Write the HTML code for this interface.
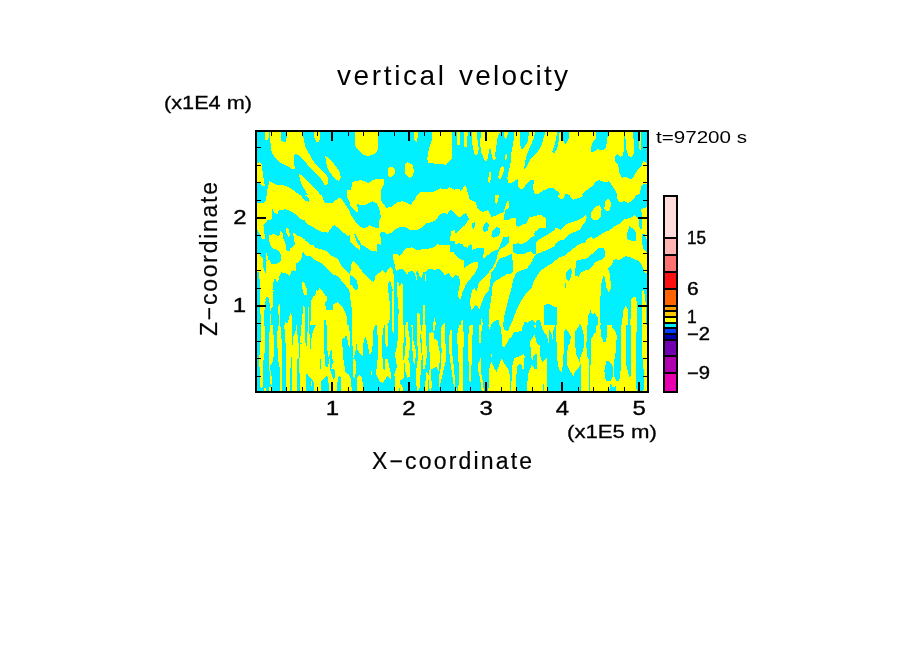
<!DOCTYPE html>
<html><head><meta charset="utf-8">
<style>
html,body{margin:0;padding:0;background:#fff;width:904px;height:654px;overflow:hidden}
svg{position:absolute;left:0;top:0}
text{font-family:"Liberation Sans",sans-serif;fill:#000}
.c{fill:#00F0FF}
</style></head><body>
<svg width="904" height="654" viewBox="0 0 904 654">
<defs><clipPath id="pc"><rect x="257" y="132" width="390" height="259"/></clipPath></defs>
<rect x="257" y="132" width="390" height="259" fill="#00F0FF"/>
<g fill="#FFFF00" shape-rendering="crispEdges" clip-path="url(#pc)">
<polygon points="265.0,132.0 269.2,132.0 268.8,136.6 268.1,140.0 265.0,140.0"/>
<polygon points="269.9,132.0 281.0,132.0 281.5,140.5 284.0,142.7 286.2,141.6 287.1,132.0 302.6,132.0 303.7,138.8 305.3,146.6 308.1,152.1 311.4,157.7 314.7,163.2 320.3,168.7 325.8,174.2 328.0,177.6 327.5,184.2 324.7,185.3 322.5,180.9 319.2,176.5 313.6,170.9 308.1,165.4 303.7,159.9 299.2,155.4 295.9,153.8 294.3,155.4 294.3,163.2 294.8,168.7 291.5,168.7 286.0,165.4 279.3,162.1 274.9,157.7 271.6,152.1 270.5,143.3"/>
<polygon points="325.2,156.0 328.0,157.7 332.4,162.1 336.9,167.6 340.2,172.6 340.7,177.6 339.1,180.9 335.8,179.8 332.4,175.4 328.0,169.8 326.3,163.2"/>
<polygon points="257.0,163.2 259.4,162.1 261.6,164.3 262.7,172.0 263.8,179.8 265.0,186.4 262.7,186.4 259.4,183.1 257.0,182.0"/>
<polygon points="266.1,200.8 267.7,187.5 269.4,181.4 272.7,183.1 277.1,185.3 283.8,185.3 289.3,187.5 293.7,190.3 299.2,194.7 303.7,200.8"/>
<polygon points="299.2,174.2 302.6,175.9 308.1,182.0 313.6,187.5 319.2,193.1 322.5,197.5 323.6,200.8 310.3,200.8 308.1,195.3 304.8,189.7 301.5,184.2 299.8,178.7"/>
<polygon points="346.8,200.8 347.4,190.3 351.2,189.7 352.3,182.0 355.0,180.9 355.0,200.8"/>
<polygon points="337.4,200.8 339.1,196.9 341.3,197.5 342.4,200.8"/>
<polygon points="314.2,132.0 319.7,132.0 319.7,140.0 318.1,142.7 315.8,141.1 314.2,137.7"/>
<polygon points="355.5,131.8 378.0,131.8 378.0,149.5 374.9,153.7 368.3,156.2 363.4,154.9 358.5,150.1 355.1,145.8"/>
<polygon points="413.9,131.8 418.1,131.8 417.5,138.5 416.3,142.8 414.5,139.7"/>
<polygon points="432.1,131.8 452.2,131.8 451.6,158.6 445.5,164.7 427.9,162.9 427.3,158.0 429.1,148.3 431.5,141.0"/>
<polygon points="456.5,131.8 460.0,131.8 460.0,144.6 457.1,144.6"/>
<polygon points="388.3,167.7 392.0,166.5 395.6,170.8 395.0,173.2 390.8,177.5 388.0,176.2"/>
<polygon points="405.4,164.1 407.8,162.2 412.7,164.7 413.9,171.4 412.7,175.6 409.6,178.1 405.4,173.8"/>
<polygon points="351.8,200.6 352.4,181.7 356.1,181.1 361.0,179.9 368.3,182.9 373.1,179.9 378.6,178.7 384.1,179.3 383.5,184.8 381.0,189.6 381.0,200.6"/>
<polygon points="415.1,200.6 416.9,195.1 421.8,191.5 427.9,192.1 434.0,191.5 440.0,188.4 446.1,189.6 449.8,187.2 454.6,189.6 460.0,188.4 460.0,200.6"/>
<polygon points="456.8,131.8 459.9,131.8 459.3,141.0 458.7,144.6 456.8,144.6"/>
<polygon points="464.1,131.8 467.8,131.8 467.2,141.0 466.6,147.0 464.1,147.6"/>
<polygon points="472.0,131.8 476.9,131.8 477.5,139.7 478.7,148.3 478.1,153.7 475.1,155.6 473.3,149.5 472.0,142.2"/>
<polygon points="481.2,131.8 500.0,131.8 498.2,136.1 497.0,139.7 496.4,145.8 495.2,154.3 495.8,159.2 493.3,160.4 491.5,154.3 490.3,148.3 489.1,149.5 487.9,158.0 486.0,161.6 484.2,159.2 481.2,151.9 479.9,143.4"/>
<polygon points="503.7,131.8 507.9,131.8 507.3,137.3 505.5,139.1 503.7,136.1"/>
<polygon points="514.0,131.8 519.5,131.8 519.5,142.2 521.3,149.5 524.4,147.0 527.4,142.2 529.2,131.8 535.3,131.8 534.1,137.3 531.7,143.4 528.0,151.9 525.6,159.2 523.8,170.2 526.8,166.5 530.4,159.2 536.5,153.1 541.4,145.8 543.8,137.3 545.7,131.8 557.2,131.8 556.0,139.7 552.3,151.9 554.2,153.7 557.2,148.3 559.0,139.7 559.6,131.8 565.0,131.8 565.0,200.6 562.1,199.4 558.4,192.1 553.6,188.4 548.7,188.4 542.6,190.8 537.7,194.5 534.1,193.3 532.9,187.2 534.1,180.5 530.4,179.9 526.8,183.5 523.1,188.4 521.3,189.6 518.3,187.2 518.3,178.7 514.6,181.1 511.0,183.5 507.9,182.9 507.3,177.5 509.8,166.5 511.0,160.4 511.6,150.7 513.4,143.4"/>
<polygon points="504.9,155.6 506.7,154.3 507.3,158.0 505.5,159.8"/>
<polygon points="498.2,177.5 500.0,168.9 502.5,165.9 504.3,167.7 503.1,173.8 500.0,179.9"/>
<polygon points="487.9,181.1 489.1,172.6 490.9,171.4 490.9,178.7 489.7,183.5"/>
<polygon points="454.4,200.6 454.4,189.6 457.4,189.6 460.5,191.5 463.5,187.2 466.0,185.4 467.2,190.8 468.4,195.7 470.2,200.6"/>
<polygon points="495.2,200.6 497.0,195.7 498.8,195.1 498.8,200.6"/>
<polygon points="560.0,131.6 648.8,131.6 648.8,200.6 560.0,200.6"/>
<polygon class="c" points="562.7,131.6 569.1,131.6 568.6,138.6 565.9,144.4 563.7,141.8 562.7,138.6"/>
<polygon class="c" points="595.9,131.6 608.2,131.6 607.1,139.6 606.0,147.1 603.3,150.3 597.5,149.3 591.6,153.0 591.0,147.1 593.2,141.8 595.9,138.6"/>
<polygon class="c" points="624.2,131.6 625.3,131.6 625.8,148.2 628.5,155.7 631.2,157.8 633.3,155.7 633.9,151.4 633.3,131.6 638.1,131.6 639.2,149.3 641.3,149.8 641.3,131.6 648.8,131.6 648.8,164.3 643.5,161.0 641.3,166.4 637.1,170.7 633.9,176.0 631.2,179.8 626.4,177.1 622.1,177.6 619.4,172.8 618.3,165.3 615.1,162.1 615.1,156.8 617.8,154.1 619.9,156.8 623.1,156.2 624.2,146.1"/>
<polygon class="c" points="560.0,200.6 560.0,198.0 565.4,194.2 569.6,194.8 571.8,200.6"/>
<polygon class="c" points="577.1,200.6 583.5,193.1 587.8,189.4 592.6,185.7 596.4,180.8 599.6,180.3 605.0,182.4 608.7,181.2 611.4,184.6 615.7,191.0 617.3,194.2 617.8,200.6"/>
<polygon class="c" points="633.9,200.6 637.1,195.3 639.7,193.7 641.3,185.7 644.0,183.5 648.8,183.5 648.8,200.6"/>
<polygon points="255.0,195.0 355.7,195.0 355.7,265.8 255.0,265.8"/>
<polygon class="c" points="257.0,195.0 266.6,195.0 266.1,199.4 264.4,202.7 257.0,202.7"/>
<polygon class="c" points="300.4,195.0 304.8,195.0 308.7,198.3 308.7,201.6 305.9,201.1 302.6,197.8"/>
<polygon class="c" points="321.9,195.0 346.8,195.0 347.4,198.3 351.2,205.0 355.7,209.4 355.7,218.2 352.3,214.9 347.9,208.3 343.5,201.6 340.2,197.2 336.9,199.4 332.4,202.7 325.8,203.3 323.6,200.5"/>
<polygon class="c" points="263.3,224.9 267.2,220.4 271.6,219.3 272.1,208.3 274.9,213.3 277.7,213.8 278.8,209.9 286.0,209.4 291.5,211.6 297.0,215.5 302.6,220.4 308.1,224.3 314.7,228.2 321.4,231.5 328.0,232.6 332.4,226.5 334.6,225.4 339.1,228.2 343.5,232.6 347.9,235.9 353.5,234.3 355.7,233.7 355.7,260.3 352.3,260.3 347.9,258.6 341.3,257.5 334.6,255.8 328.0,253.6 321.4,250.3 314.7,247.5 309.2,243.7 303.7,239.2 298.1,235.4 293.2,232.6 291.5,233.2 288.2,230.4 282.7,230.4 277.1,232.6 269.4,234.8 265.0,231.5"/>
<polygon class="c" points="305.0,253.1 312.5,257.5 319.2,260.8 325.8,264.1 328.0,265.8 305.0,265.8"/>
<polygon class="c" points="255.0,220.0 305.0,220.0 305.0,265.0 255.0,265.0"/>
<polygon points="256.7,220.0 267.0,220.0 266.7,221.4 263.3,225.2 263.9,228.9 265.0,238.6 261.9,238.6 259.8,235.1 257.8,230.3 256.7,229.6"/>
<polygon points="269.1,235.1 273.6,234.1 277.0,235.5 279.4,235.5 280.1,231.0 282.9,233.1 283.2,237.9 285.3,242.7 286.6,250.3 289.4,251.6 290.8,248.9 294.9,246.8 294.2,238.6 292.5,232.4 294.2,232.7 296.3,235.1 300.4,236.5 303.1,238.6 305.0,239.3 305.0,252.3 302.5,252.3 301.8,257.1 299.7,260.6 297.0,264.0 296.3,265.0 281.1,265.0 280.8,254.4 279.4,251.3 276.3,249.6 272.2,248.2 270.1,244.8 269.1,240.6"/>
<polygon points="286.3,228.3 288.0,227.9 289.4,230.3 289.7,235.8 288.7,236.9 286.6,234.4"/>
<polygon points="256.7,253.7 260.5,253.7 260.2,255.1 262.6,258.5 262.9,265.0 256.7,265.0"/>
<polygon points="266.0,253.7 267.0,253.0 268.1,259.9 272.2,265.0 266.3,265.0"/>
<polygon points="274.3,264.0 280.4,262.0 281.1,265.0 273.6,265.0"/>
<polygon points="350.0,195.0 460.7,195.0 460.7,265.6 350.0,265.6"/>
<polygon class="c" points="381.0,195.0 416.9,195.0 414.5,199.9 410.8,204.7 407.2,202.9 402.3,201.1 397.5,202.3 391.4,206.6 386.5,207.8 384.1,204.7 381.0,200.5"/>
<polygon class="c" points="350.0,205.3 353.7,209.6 357.9,212.6 357.3,203.5 361.0,205.3 365.8,204.7 372.5,201.1 376.8,203.5 379.2,208.4 381.0,216.9 379.2,220.6 379.2,228.5 375.6,227.9 369.5,225.4 364.0,228.5 359.7,226.6 355.5,221.8 352.4,216.9 350.0,213.3"/>
<polygon class="c" points="350.0,241.8 359.7,249.8 358.5,246.1 354.3,234.5 355.5,233.9 361.0,244.3 365.8,247.3 371.9,251.0 376.8,251.6 377.4,243.7 381.0,244.9 380.2,232.7 384.1,232.1 387.1,234.5 392.6,232.1 395.0,229.1 399.9,227.2 406.0,227.2 409.6,229.7 415.7,230.3 421.8,227.9 425.4,223.6 430.3,222.4 435.2,220.6 440.0,214.5 443.7,212.6 447.3,213.9 451.0,209.6 454.6,213.3 457.1,213.3 460.7,217.5 460.7,233.9 456.5,233.9 454.6,229.7 451.0,231.5 449.8,241.2 454.6,240.6 457.1,243.7 460.7,244.9 460.7,258.3 455.9,257.1 453.4,252.2 449.8,252.2 449.8,244.9 443.7,245.5 437.6,244.3 434.0,247.3 429.1,248.5 423.0,249.1 417.5,250.4 412.1,247.3 406.0,248.5 402.3,252.8 399.9,255.8 396.2,253.4 393.2,254.6 393.2,265.6 357.3,265.6 353.7,261.3 350.0,261.3"/>
<polygon class="c" points="455.0,195.0 565.7,195.0 565.7,265.6 455.0,265.6"/>
<polygon points="455.0,195.0 469.0,195.0 469.6,199.3 475.7,202.3 477.5,208.4 482.4,212.0 487.9,210.2 491.5,216.9 497.0,215.1 503.7,212.0 506.1,203.5 507.9,200.5 509.1,202.3 509.1,207.2 504.9,210.8 503.7,219.9 507.3,220.6 513.4,217.5 515.8,217.5 516.5,226.0 518.3,226.6 526.8,223.0 529.2,217.5 540.2,214.5 545.7,218.1 545.7,227.9 540.2,227.9 535.3,231.5 531.7,237.6 526.8,242.5 520.7,243.7 514.6,243.1 513.4,246.1 514.0,252.2 519.5,254.6 526.8,251.6 531.7,252.2 533.5,258.3 530.4,263.1 529.2,265.6 512.2,265.6 512.2,257.1 509.1,253.4 503.7,252.8 501.2,255.8 497.6,265.6 491.5,265.6 495.2,258.3 500.0,252.2 504.9,246.1 508.5,243.1 509.1,237.6 506.1,235.8 502.5,237.6 499.4,243.7 493.9,248.5 487.9,254.6 484.2,258.3 482.4,251.0 476.9,247.3 469.6,248.5 464.7,244.9 459.9,243.1 455.0,244.9 455.0,233.9 459.3,230.3 464.7,225.4 469.0,219.3 466.0,212.6 459.3,217.5 455.0,213.3"/>
<polygon class="c" points="472.0,223.6 474.5,221.8 475.1,226.0 473.3,229.1 471.8,227.2"/>
<polygon class="c" points="483.6,225.4 486.6,221.8 489.1,224.2 487.9,230.3 484.2,232.7 483.0,229.1"/>
<polygon class="c" points="492.1,231.5 495.8,227.2 500.0,227.9 500.0,233.9 495.2,237.6 491.5,237.0"/>
<polygon points="455.0,253.4 459.9,256.5 463.5,259.5 464.1,265.6 455.0,265.6"/>
<polygon points="469.6,265.6 472.0,262.5 476.9,261.9 478.1,265.6"/>
<polygon points="534.1,243.7 540.2,238.8 548.7,233.9 556.0,229.1 560.9,227.2 565.7,226.6 565.7,238.8 559.6,241.2 554.8,246.1 547.5,249.8 540.2,252.8 535.3,254.6 534.1,249.8"/>
<polygon points="551.1,265.6 557.2,259.5 562.1,257.1 565.7,255.8 565.7,265.6"/>
<polygon points="495.2,195.0 498.8,195.0 498.2,201.1 496.4,204.7 495.2,202.3"/>
<polygon points="557.8,195.0 565.7,195.0 564.5,197.4 561.5,199.9 558.4,197.4"/>
<polygon points="455.0,235.0 535.5,235.0 535.5,275.7 455.0,275.7"/>
<polygon class="c" points="455.0,244.3 459.4,243.0 463.0,244.7 463.8,246.5 467.4,247.8 470.0,243.8 471.8,245.6 472.3,249.6 476.2,248.3 478.9,247.4 483.8,248.3 483.3,258.5 486.9,255.8 491.3,252.3 493.9,250.9 498.4,249.2 501.0,243.0 503.2,237.2 509.0,236.3 509.4,241.2 508.1,243.8 504.6,246.9 501.0,248.3 499.2,250.5 497.5,254.5 496.6,258.9 494.8,261.5 492.2,265.1 487.7,269.5 485.1,272.2 483.3,275.7 474.9,275.7 476.2,271.3 478.0,267.7 477.1,263.3 474.5,262.4 469.2,264.2 466.5,266.9 464.3,269.1 463.8,261.5 461.2,259.8 458.5,258.0 455.9,255.4 455.0,254.0"/>
<polygon class="c" points="491.3,235.0 499.2,235.0 497.5,236.3 493.9,237.7 491.7,236.8"/>
<polygon class="c" points="492.6,275.7 493.9,270.4 496.6,264.2 497.5,260.7 500.1,258.0 504.6,257.1 508.1,255.4 511.6,254.0 512.1,260.7 512.5,270.4 512.5,273.1 508.1,273.1 505.4,275.7"/>
<polygon class="c" points="513.4,243.8 517.8,243.4 522.3,243.8 527.6,241.2 531.1,237.7 533.3,235.9 535.5,235.4 535.5,254.0 533.8,254.0 531.1,251.4 527.6,251.8 524.9,253.6 519.6,254.0 516.1,253.6 513.4,251.8 513.0,246.5"/>
<polygon class="c" points="512.5,275.7 516.9,271.3 523.1,269.1 527.6,266.0 531.1,261.5 533.8,257.1 535.5,254.5 535.5,275.7"/>
<polygon class="c" points="560.0,195.0 648.8,195.0 648.8,265.6 560.0,265.6"/>
<polygon points="560.0,195.0 564.8,195.0 564.3,197.1 561.6,199.3 560.0,199.3"/>
<polygon points="570.2,195.0 583.0,195.0 581.4,197.1 576.1,198.7 572.8,199.8 570.7,197.7"/>
<polygon points="616.7,195.0 636.0,195.0 634.9,197.7 631.7,201.4 628.5,203.0 624.2,200.9 619.9,202.5 617.8,200.4"/>
<polygon points="605.0,201.4 607.1,199.1 610.3,199.8 610.8,205.7 609.2,211.1 606.6,211.6 604.4,208.9"/>
<polygon points="590.5,213.2 595.3,206.8 599.6,205.2 601.7,208.9 600.7,216.4 597.5,219.6 593.2,219.6 590.5,216.4"/>
<polygon points="560.0,229.3 563.2,227.1 566.4,223.9 570.7,222.8 576.1,220.7 581.4,218.5 585.7,214.8 586.8,217.5 584.6,222.8 580.3,228.2 575.0,231.9 568.6,234.6 564.3,237.8 560.0,240.0"/>
<polygon points="611.4,227.1 617.8,225.0 624.2,219.6 629.6,218.0 634.9,215.3 638.7,219.6 639.2,226.0 641.3,230.3 642.4,226.0 641.3,208.9 646.7,207.3 648.8,207.3 648.8,265.6 639.2,262.4 634.9,259.2 629.6,257.1 625.3,256.0 622.1,258.1 618.9,260.3 615.7,259.2 613.5,254.9 611.4,253.3 602.8,248.5 592.1,250.7 581.4,259.2 570.7,265.6 560.0,265.6 560.0,257.1 570.7,248.5 581.4,242.1 592.1,237.3 602.8,232.5"/>
<polygon class="c" points="626.9,233.5 629.6,226.0 634.9,230.3 636.0,233.5 636.0,240.5 631.7,241.0 626.9,238.9"/>
<polygon class="c" points="641.9,234.6 644.6,234.1 646.7,240.0 647.2,252.8 643.5,248.5 641.9,242.1"/>
<polygon class="c" points="612.4,265.6 613.0,259.2 611.4,254.4 613.5,254.9 615.7,259.2 618.9,260.3 622.1,258.1 625.3,256.0 629.6,257.1 634.9,259.2 639.2,262.4 641.3,265.6"/>
<polygon points="555.0,225.0 615.6,225.0 615.6,270.4 555.0,270.4"/>
<polygon class="c" points="555.0,225.0 565.0,225.0 564.6,226.4 560.5,229.8 557.8,228.1 555.0,227.8"/>
<polygon class="c" points="555.0,245.0 558.1,241.2 563.9,239.5 566.0,237.0 571.5,232.9 577.0,231.2 581.2,228.4 581.8,225.0 615.6,225.0 615.6,226.0 613.5,226.7 609.4,230.5 604.6,231.9 599.0,235.7 593.5,238.8 590.8,237.0 588.0,238.4 584.6,242.9 581.2,243.2 577.7,245.0 570.8,250.5 563.9,256.0 559.1,257.3 555.0,260.8"/>
<polygon class="c" points="575.0,270.4 575.6,264.2 581.2,259.1 586.0,258.7 592.2,253.9 598.0,248.1 603.9,248.1 604.9,251.2 604.6,257.3 601.1,260.8 594.9,262.5 592.9,266.3 590.8,270.4"/>
<polygon class="c" points="608.0,270.4 608.7,266.3 612.1,264.2 614.2,260.8 615.6,259.4 615.6,270.4"/>
<polygon class="c" points="570.8,267.3 571.9,266.6 572.1,270.4 570.7,270.4"/>
<polygon class="c" points="255.0,260.0 355.7,260.0 355.7,330.8 255.0,330.8"/>
<polygon points="257.0,260.0 259.4,260.0 259.4,272.2 257.0,272.2"/>
<polygon points="259.4,260.0 262.7,260.0 263.3,267.7 265.5,273.3 266.6,260.0 269.4,260.0 271.6,264.4 278.2,263.3 281.0,260.0 300.4,260.0 296.5,263.3 295.4,266.6 294.8,271.1 292.6,270.0 291.0,272.2 290.4,276.6 288.2,274.4 284.9,273.3 281.5,272.2 279.9,274.4 278.8,279.9 277.1,282.1 274.9,277.7 273.3,283.2 272.1,292.1 260.0,292.1 259.4,275.5 259.4,271.1"/>
<polygon points="315.8,260.0 340.2,260.0 342.4,264.4 346.8,271.1 351.2,274.4 352.3,260.0 355.7,260.0 355.7,330.8 352.9,330.8 352.3,308.7 351.8,293.2 350.1,284.3 343.5,278.8 339.1,276.6 332.4,275.5 326.9,271.1 321.4,264.4"/>
<polygon points="310.3,330.8 310.9,302.0 312.5,296.5 315.8,295.4 316.4,289.9 320.3,288.2 323.6,292.1 326.9,295.4 327.5,299.8 325.2,302.0 325.8,309.8 332.4,310.3 333.5,304.2 338.0,302.0 342.4,306.5 346.8,316.4 347.9,330.8"/>
<polygon class="c" points="324.1,330.8 324.1,319.7 325.8,319.7 325.8,330.8"/>
<polygon points="302.0,282.1 303.7,282.7 307.0,289.9 306.4,294.8 303.7,294.3 302.6,287.7"/>
<polygon points="302.6,330.8 303.1,306.5 304.2,306.5 304.2,330.8"/>
<polygon points="307.5,330.8 308.1,306.5 309.2,306.5 309.2,330.8"/>
<polygon class="c" points="256.8,290.0 305.1,290.0 305.1,330.3 256.8,330.3"/>
<polygon points="259.9,290.0 273.9,290.0 273.0,292.4 272.7,306.5 271.2,313.2 271.0,324.2 271.5,330.3 270.0,330.3 270.0,313.2 269.1,298.6 267.5,297.0 266.0,297.3 265.1,301.0 264.2,310.8 264.2,330.3 260.8,330.3 260.2,314.4 259.9,296.1"/>
<polygon points="278.2,307.1 279.8,304.1 280.1,318.1 279.8,330.3 278.5,330.3 278.8,318.1 278.2,307.7"/>
<polygon points="284.3,330.3 285.3,321.8 286.5,323.6 288.3,321.2 289.8,317.8 290.5,312.0 291.7,315.1 292.3,330.3"/>
<polygon points="296.0,330.3 296.3,325.1 297.2,325.1 297.2,330.3"/>
<polygon points="302.1,330.3 302.4,307.7 303.9,306.2 305.1,305.9 305.1,330.3"/>
<polygon points="303.3,290.0 305.1,290.0 305.1,293.7 303.6,294.9"/>
<polygon class="c" points="290.0,245.0 360.0,245.0 360.0,300.0 290.0,300.0"/>
<polygon points="295.0,245.0 313.1,245.0 315.2,247.5 319.4,248.8 326.2,250.9 331.2,255.5 335.4,257.6 338.8,260.1 341.3,266.0 347.2,271.9 351.0,275.3 352.3,280.3 352.3,287.1 356.5,290.9 360.0,290.9 360.0,300.0 351.4,300.0 350.6,295.5 348.9,289.6 344.7,284.5 341.3,280.3 338.0,276.1 332.9,274.4 326.2,267.7 322.0,263.5 315.2,260.1 310.6,256.4 306.0,255.9 303.5,252.2 302.2,253.0 301.8,257.6 299.3,261.8 296.3,263.5 295.5,271.1 293.4,270.2 290.8,271.9 290.0,277.0 290.0,248.8"/>
<polygon points="352.3,261.4 354.8,261.8 360.0,266.0 360.0,290.9 357.3,290.9 357.7,280.3 353.9,277.0 352.3,269.4"/>
<polygon points="302.2,282.0 303.9,282.0 306.8,288.7 306.8,294.6 303.9,294.6 302.6,290.4"/>
<polygon points="312.3,300.0 312.7,296.3 315.2,295.5 316.5,290.4 317.8,291.3 319.4,288.3 321.5,289.6 325.3,295.5 327.4,295.5 327.4,300.0"/>
<polygon points="353.9,245.0 360.0,245.0 360.0,250.0 356.5,247.5"/>
<polygon class="c" points="350.0,260.0 460.7,260.0 460.7,330.6 350.0,330.6"/>
<polygon points="393.8,260.0 460.7,260.0 460.7,275.2 455.9,275.2 452.2,278.3 448.6,272.8 444.9,275.8 442.5,271.6 438.8,268.5 435.2,269.7 429.1,269.1 425.4,271.6 423.0,272.2 421.8,278.3 419.4,275.8 418.1,271.0 416.3,272.2 416.9,280.7 414.5,273.4 412.1,270.3 408.4,272.2 407.2,274.6 404.8,271.0 401.1,268.5 396.2,271.0 395.0,267.3"/>
<polygon points="424.8,274.0 426.1,274.0 426.1,280.7 424.8,280.7"/>
<polygon points="350.0,274.6 351.8,261.8 353.7,261.2 358.5,266.1 364.6,274.6 373.7,282.5 375.6,275.8 379.2,272.8 382.9,269.7 385.3,273.4 390.2,266.7 392.6,269.1 393.8,275.8 393.8,291.6 392.0,288.0 390.8,281.9 388.9,281.3 387.7,286.8 388.9,296.5 390.2,306.2 390.2,318.4 388.9,322.1 385.3,326.3 384.7,330.6 376.8,330.6 375.6,327.5 374.3,330.6 351.8,330.6 351.8,308.7 350.0,296.5"/>
<polygon class="c" points="350.0,274.6 351.8,275.8 357.3,280.7 357.9,289.2 356.1,290.4 351.8,285.6 350.0,284.3"/>
<polygon points="392.0,291.6 393.8,290.4 393.8,330.6 391.4,330.6 392.0,311.1 392.0,302.6"/>
<polygon points="396.8,281.9 398.1,282.5 399.9,286.8 401.7,282.5 402.9,284.3 403.5,330.6 397.5,330.6 398.7,311.1 397.5,296.5"/>
<polygon points="405.4,330.6 406.6,320.8 408.4,323.3 409.0,330.6"/>
<polygon points="410.8,330.6 411.5,325.7 412.3,330.6"/>
<polygon points="416.9,330.6 417.5,312.9 420.0,314.1 420.0,330.6"/>
<polygon points="422.4,330.6 423.0,304.4 424.8,305.0 425.4,330.6"/>
<polygon points="432.7,330.6 434.0,316.0 435.8,323.3 435.2,330.6"/>
<polygon points="442.5,330.6 444.3,319.0 444.9,330.6"/>
<polygon points="460.7,288.6 458.3,292.9 458.9,298.9 460.7,300.2"/>
<polygon class="c" points="455.0,260.0 565.7,260.0 565.7,330.6 455.0,330.6"/>
<polygon points="455.0,260.0 464.1,260.0 464.1,268.5 468.4,264.9 474.5,261.8 477.5,262.4 478.1,266.1 475.7,272.2 470.8,278.3 466.0,284.3 462.3,292.9 460.5,299.5 458.7,298.9 458.0,292.9 459.9,284.3 459.3,275.8 455.0,275.2"/>
<polygon points="496.4,260.0 498.2,260.0 495.2,267.3 491.5,272.2 490.3,280.7 489.1,290.4 484.8,295.3 481.2,303.8 479.3,309.9 477.5,306.2 475.1,305.0 472.0,309.9 470.8,311.1 470.2,300.2 472.0,290.4 474.5,288.0 476.9,291.6 478.1,284.3 481.8,279.5 487.9,273.4 492.7,267.3"/>
<polygon points="512.8,260.0 532.9,260.0 530.4,263.7 526.8,268.5 521.3,270.3 515.8,273.4 513.4,279.5 511.0,290.4 508.5,298.9 506.1,308.7 503.7,318.4 503.1,330.6 500.0,330.6 498.8,319.6 495.2,320.8 491.5,324.5 489.1,330.6 488.5,330.6 489.1,311.1 491.5,296.5 492.7,284.3 495.2,280.7 500.0,278.3 506.1,274.6 511.0,273.4 512.8,272.2"/>
<polygon points="556.0,260.0 565.7,260.0 565.7,330.6 557.2,330.6 556.6,307.5 551.1,305.0 547.5,303.8 544.4,305.0 543.8,314.8 544.4,330.6 542.6,330.6 540.2,320.2 537.7,319.6 535.3,323.3 531.7,319.6 528.0,322.7 524.4,321.5 522.5,330.6 508.5,330.6 513.4,318.4 517.1,308.7 520.7,301.4 525.6,294.1 531.7,288.0 534.1,280.7 540.2,271.0 547.5,266.1 552.3,263.0"/>
<polygon points="460.5,330.6 461.7,319.6 462.9,320.8 462.9,330.6"/>
<polygon points="469.6,330.6 471.4,325.1 472.6,326.3 472.0,330.6"/>
<polygon points="479.9,330.6 481.2,318.4 482.4,319.6 483.0,330.6"/>
<polygon points="560.0,260.0 648.8,260.0 648.8,330.6 560.0,330.6"/>
<polygon class="c" points="576.6,260.0 600.7,260.0 595.3,262.1 593.2,265.4 588.9,269.6 584.6,270.7 580.9,272.8 578.7,276.6 575.5,276.1 575.0,270.7 576.1,264.3"/>
<polygon class="c" points="566.4,271.8 571.2,267.0 571.8,272.8 570.2,279.3 568.6,281.4 565.9,277.7"/>
<polygon class="c" points="564.8,282.5 565.9,282.5 565.9,287.8 564.8,287.8"/>
<polygon class="c" points="613.5,260.0 637.1,260.0 640.3,262.1 643.5,268.6 644.6,272.8 648.8,273.9 648.8,330.6 600.7,330.6 600.1,302.8 601.2,284.6 603.3,276.1 605.0,277.1 606.0,286.8 608.7,292.6 610.8,288.9 610.3,276.1 608.2,268.6 611.4,265.4 613.0,262.1"/>
<polygon points="641.9,291.0 644.0,290.0 645.6,302.8 646.2,330.6 642.4,330.6 641.9,313.5"/>
<polygon points="630.1,330.6 631.2,299.6 633.9,296.4 636.0,297.5 637.1,305.0 637.1,330.6"/>
<polygon points="621.5,330.6 623.1,310.3 625.8,306.0 628.0,310.3 628.5,330.6"/>
<polygon points="607.1,330.6 607.6,326.4 610.3,328.5 612.4,327.4 614.1,330.6"/>
<polygon class="c" points="587.3,330.6 588.4,315.7 590.5,310.3 592.1,314.6 594.3,313.0 597.5,316.7 598.0,330.6"/>
<polygon class="c" points="578.2,330.6 579.3,323.1 580.3,326.4 580.9,330.6"/>
<polygon class="c" points="255.0,325.0 355.7,325.0 355.7,395.8 255.0,395.8"/>
<polygon points="261.1,325.0 265.0,325.0 263.8,358.2 262.7,386.9 261.6,395.8 260.0,386.9 259.4,352.7"/>
<polygon points="269.4,325.0 272.7,325.0 273.3,358.2 272.1,371.5 271.6,386.9 270.5,395.8 269.4,371.5 268.8,352.7"/>
<polygon points="277.1,325.0 281.0,325.0 281.5,347.1 282.1,369.2 281.5,395.8 279.9,395.8 278.8,369.2 277.7,347.1"/>
<polygon points="284.3,325.0 292.6,325.0 292.1,336.1 290.4,352.7 290.4,369.2 291.0,395.8 286.5,395.8 286.0,369.2 286.5,347.1 284.9,331.6"/>
<polygon points="294.3,325.0 299.2,325.0 299.2,395.8 292.6,395.8 293.2,369.2 293.7,347.1"/>
<polygon points="344.9,325.0 349.0,325.0 349.6,346.0 346.8,336.1 342.9,339.4 342.4,347.1 343.5,363.7 346.8,372.6 350.1,377.0 349.0,395.8 344.9,395.8"/>
<polygon points="352.3,325.0 355.7,325.0 355.7,395.8 352.3,395.8 353.5,358.2"/>
<polygon points="295.0,325.0 345.0,325.0 345.0,393.6 295.0,393.6"/>
<polygon class="c" points="297.1,325.0 301.2,325.0 299.7,356.2 299.2,371.8 299.2,393.6 296.6,393.6 297.1,356.2"/>
<polygon class="c" points="304.4,325.0 308.5,325.0 307.0,335.4 306.4,348.9 304.9,348.9 304.9,335.4"/>
<polygon class="c" points="309.0,325.0 315.8,325.0 313.7,329.2 311.6,335.4 311.1,348.9 309.6,348.9 309.6,335.4"/>
<polygon class="c" points="323.6,325.0 327.2,325.0 326.7,345.8 328.3,356.2 329.3,361.4 327.2,367.6 325.1,365.5 324.1,345.8"/>
<polygon class="c" points="319.9,359.3 321.0,359.3 321.0,368.7 319.9,368.7"/>
<polygon class="c" points="329.3,356.2 330.9,349.9 331.9,349.4 332.4,359.3 334.0,361.4 332.4,364.5 331.4,368.7 334.5,369.7 335.0,377.0 333.5,379.1 330.3,370.7"/>
<polygon class="c" points="342.3,339.6 343.9,338.0 345.0,338.5 345.0,368.7 342.8,356.2"/>
<polygon class="c" points="304.9,393.6 305.4,374.9 307.0,373.9 311.6,379.1 313.7,382.2 314.2,393.6"/>
<polygon points="311.1,381.1 312.2,381.1 312.2,386.3 311.1,386.3"/>
<polygon class="c" points="321.0,393.6 321.5,381.1 325.1,377.0 327.2,375.9 328.3,381.1 329.8,393.6"/>
<polygon class="c" points="337.1,393.6 337.6,379.1 339.7,375.4 340.7,377.0 340.7,393.6"/>
<polygon class="c" points="255.0,300.0 305.0,300.0 305.0,345.0 255.0,345.0"/>
<polygon points="260.2,300.0 266.0,300.0 265.0,301.4 264.6,310.3 263.9,311.7 263.9,324.8 265.0,326.1 265.0,345.0 260.2,345.0 260.8,337.1 260.8,320.6 260.2,306.9"/>
<polygon points="269.1,300.0 272.9,300.0 272.9,306.9 271.5,307.6 271.2,313.1 270.5,313.8 270.1,324.8 272.9,325.4 273.2,334.4 273.9,335.1 273.9,345.0 269.1,345.0 269.4,333.0 270.5,324.1 270.8,313.8 269.8,305.5"/>
<polygon points="278.7,304.1 279.8,304.1 280.1,324.1 281.1,331.6 281.8,345.0 277.0,345.0 277.4,331.6 278.7,324.8 278.4,306.9"/>
<polygon points="285.3,322.0 286.3,322.0 286.6,323.7 288.0,322.7 289.0,317.9 290.4,312.4 291.5,315.1 292.1,345.0 285.3,345.0 285.3,337.1 284.6,329.6 284.2,326.1"/>
<polygon points="295.6,325.4 296.6,325.1 297.3,331.6 298.0,345.0 293.2,345.0 293.5,336.5 294.5,334.4 295.6,330.3"/>
<polygon points="302.5,306.2 303.8,306.2 305.0,306.9 305.0,345.0 299.7,345.0 300.7,334.4 301.4,326.1 302.5,313.8"/>
<polygon class="c" points="255.0,343.0 305.5,343.0 305.5,393.5 255.0,393.5"/>
<polygon points="260.0,343.0 264.9,343.0 264.9,352.9 263.8,353.3 263.0,372.1 262.6,386.6 261.1,388.1 260.0,387.0 259.6,368.2 258.8,355.2 260.0,354.5"/>
<polygon points="269.1,343.0 274.1,343.0 273.7,356.8 273.0,357.5 272.6,362.1 269.9,365.9 270.3,371.3 271.4,372.1 271.8,385.0 270.7,385.8 269.5,371.3 268.8,365.2"/>
<polygon points="277.2,343.0 282.1,343.0 282.1,391.9 280.2,391.9 279.8,369.0 278.3,360.6 277.6,349.1"/>
<polygon points="286.0,343.0 292.5,343.0 291.7,350.6 290.6,362.1 290.2,391.9 286.0,391.9"/>
<polygon points="293.2,343.0 298.6,343.0 299.0,357.5 297.0,359.8 296.7,365.9 297.0,391.9 292.5,391.9 292.1,362.9 290.9,350.6"/>
<polygon points="300.1,343.8 305.5,343.0 305.5,391.9 300.1,391.9 299.3,365.9 299.7,350.6"/>
<polygon points="263.4,391.9 263.8,388.1 265.7,388.5 265.7,391.9"/>
<polygon points="268.4,391.9 269.1,387.3 271.8,385.8 272.2,391.9"/>
<polygon class="c" points="345.0,325.0 406.3,325.0 406.3,393.6 345.0,393.6"/>
<polygon points="345.0,325.0 349.2,325.0 349.7,334.4 349.7,346.8 348.1,344.8 347.1,336.4 345.0,335.4"/>
<polygon points="352.3,325.0 375.1,325.0 373.6,329.2 372.5,345.8 371.0,354.6 369.4,353.6 367.9,345.8 365.8,337.0 363.7,339.6 362.7,355.7 360.1,354.1 357.0,348.9 356.4,343.2 355.4,352.0 353.3,358.3 352.8,354.1 352.3,340.6"/>
<polygon points="353.3,359.3 355.4,358.3 355.9,371.8 354.9,378.0 353.8,379.1 352.8,370.7"/>
<polygon points="377.2,325.0 384.0,325.0 382.4,335.4 381.9,351.0 383.5,368.7 385.0,370.7 385.5,359.3 387.6,359.3 390.7,372.8 390.7,379.1 387.6,375.9 384.5,380.1 382.4,383.2 378.8,380.1 376.2,373.9 376.7,366.6 378.3,353.1 377.7,340.6"/>
<polygon points="384.5,325.0 387.6,325.0 387.6,345.8 386.1,347.3 385.0,340.6"/>
<polygon points="392.3,325.0 394.4,325.0 393.9,333.3 392.3,331.2"/>
<polygon points="397.5,325.0 406.3,325.0 406.3,356.2 402.7,356.2 401.7,371.8 400.1,374.9 399.6,387.4 399.1,393.6 393.9,393.6 394.9,383.2 394.4,373.9 397.0,366.6 394.9,355.1 397.0,345.8 398.0,335.4"/>
<polygon points="345.0,371.8 349.2,374.9 351.2,379.1 351.8,393.6 345.0,393.6"/>
<polygon points="356.4,393.6 357.5,377.0 359.0,374.9 361.6,377.0 362.7,383.2 362.7,393.6"/>
<polygon points="371.0,370.7 372.0,370.7 372.2,374.9 371.0,374.9"/>
<polygon class="c" points="400.0,325.0 461.3,325.0 461.3,393.6 400.0,393.6"/>
<polygon points="400.0,325.0 404.2,325.0 403.6,340.6 403.1,356.2 404.2,366.6 404.2,377.0 401.0,380.1 400.0,379.1"/>
<polygon points="405.2,325.0 407.8,325.0 408.8,333.3 410.4,342.7 409.4,351.0 408.3,359.3 409.9,364.5 410.4,373.9 409.4,377.0 407.3,378.0 405.2,370.7 404.2,359.3 405.7,343.7"/>
<polygon points="411.4,325.0 413.0,325.0 413.5,340.6 415.6,348.9 415.6,356.2 415.1,364.5 413.5,362.4 412.5,351.0 412.0,335.4"/>
<polygon points="416.6,325.0 420.8,325.0 420.3,340.6 421.8,356.2 420.8,369.7 419.8,387.4 417.2,393.6 415.6,377.0 416.6,366.6 418.2,356.2 417.2,340.6"/>
<polygon points="421.8,325.0 425.5,325.0 425.5,340.6 427.5,351.0 426.0,361.4 424.9,369.7 423.4,368.7 422.3,351.0 421.3,335.4"/>
<polygon points="429.1,333.3 433.3,331.2 434.3,338.5 437.4,340.6 439.5,351.0 440.5,356.2 438.5,370.7 436.4,366.6 431.2,369.7 431.7,387.4 430.1,393.6 428.1,377.0 430.1,366.6 430.1,356.2 428.6,345.8"/>
<polygon points="433.3,325.0 434.8,325.0 434.8,330.2 433.3,331.2"/>
<polygon points="441.6,325.0 444.7,325.0 445.2,340.6 446.3,351.0 445.7,361.4 443.7,368.7 441.6,379.1 439.5,387.4 438.5,379.1 441.1,366.6 441.6,351.0 441.1,335.4"/>
<polygon points="449.9,329.2 451.5,330.2 452.0,340.6 451.5,351.0 453.0,358.3 454.1,371.8 455.1,379.1 456.7,387.4 454.1,387.4 449.9,359.3 448.9,345.8"/>
<polygon points="457.2,331.2 461.3,329.2 461.3,387.4 458.2,383.2 457.2,366.6 457.7,345.8"/>
<polygon points="400.0,383.2 403.1,387.4 403.1,393.6 400.0,393.6"/>
<polygon points="424.9,393.6 426.0,371.8 427.5,372.8 428.1,393.6"/>
<polygon class="c" points="455.0,325.0 516.3,325.0 516.3,393.6 455.0,393.6"/>
<polygon points="459.2,325.0 462.8,325.0 463.8,335.4 463.3,356.2 462.8,371.8 463.3,393.6 458.1,393.6 459.2,371.8 458.1,356.2 457.1,335.4"/>
<polygon points="469.6,325.0 473.2,325.0 472.2,340.6 471.6,361.4 471.1,382.2 469.6,382.2 468.5,361.4 468.0,338.5"/>
<polygon points="479.4,325.0 482.5,325.0 481.0,333.3 480.5,342.7 479.4,342.7 479.1,333.3"/>
<polygon points="488.3,325.0 491.4,325.0 490.3,328.1 489.3,329.7"/>
<polygon points="500.2,325.0 502.8,325.0 504.4,330.2 508.0,331.2 510.1,325.0 516.3,325.0 516.3,329.2 511.1,335.4 507.0,342.7 503.9,347.9 502.3,345.8 501.8,335.4"/>
<polygon points="477.9,364.5 480.5,358.3 481.0,371.8 483.1,383.2 484.1,393.6 482.0,393.6 479.9,377.0 478.4,371.8"/>
<polygon points="490.9,354.1 491.9,354.1 491.9,356.7 490.9,356.7"/>
<polygon points="488.3,393.6 489.3,368.7 491.4,361.4 494.5,368.7 496.6,371.8 499.7,363.5 501.8,358.3 504.9,364.5 509.1,370.7 510.1,379.1 511.1,393.6"/>
<polygon points="511.1,393.6 511.7,366.6 516.3,358.3 516.3,393.6"/>
<polygon points="455.0,387.4 456.6,387.9 457.1,393.6 455.0,393.6"/>
<polygon class="c" points="510.0,325.0 571.3,325.0 571.3,393.6 510.0,393.6"/>
<polygon points="510.0,325.0 523.0,325.0 521.4,331.2 514.2,332.3 511.6,336.4 510.0,338.5"/>
<polygon points="533.9,325.0 536.0,325.0 535.5,327.6 534.4,327.1"/>
<polygon points="541.2,325.0 555.7,325.0 553.7,328.1 552.6,339.6 551.1,332.3 549.5,330.2 548.5,342.7 546.9,335.4 543.3,331.2"/>
<polygon points="556.3,325.0 565.1,325.0 564.1,335.4 564.1,345.8 563.0,361.4 562.0,372.8 559.9,370.7 557.8,364.5 556.8,351.0 556.3,335.4"/>
<polygon points="566.1,329.2 571.3,327.1 571.3,368.7 568.2,366.6 567.2,356.2 566.7,340.6"/>
<polygon points="530.3,341.6 534.4,334.4 537.0,343.7 540.1,345.8 540.1,356.2 542.2,362.4 544.3,360.3 546.9,357.2 546.9,393.6 544.3,393.6 543.8,371.8 543.3,393.6 527.2,393.6 527.7,374.9 531.8,364.5 534.9,369.7 537.0,368.7 537.5,356.2 536.0,353.1 533.9,355.1 532.3,360.3 530.8,355.1"/>
<polygon points="511.0,393.6 512.1,366.6 514.2,358.3 519.4,356.2 523.5,354.1 524.6,356.2 524.0,369.7 522.5,368.7 521.4,364.5 519.4,363.5 517.3,366.6 516.2,377.0 516.2,393.6"/>
<polygon points="565.0,325.0 626.3,325.0 626.3,393.6 565.0,393.6"/>
<polygon class="c" points="565.0,329.2 567.1,330.2 569.2,333.3 570.7,336.4 570.2,343.7 568.1,345.8 567.1,353.1 567.1,364.5 569.2,369.7 571.2,372.8 573.3,377.0 575.4,370.7 578.5,367.6 580.6,363.5 580.6,393.6 565.0,393.6"/>
<polygon class="c" points="575.4,331.2 579.6,325.0 580.6,325.0 583.2,331.2 584.2,340.6 583.2,351.0 580.6,356.2 580.1,363.5 578.5,359.3 575.9,353.1 574.9,340.6"/>
<polygon class="c" points="587.3,325.0 598.3,325.0 596.2,331.2 593.1,335.4 591.5,338.5 591.0,356.2 590.5,365.5 589.9,393.6 589.1,393.6 589.4,361.4 586.8,355.1 586.3,343.7 587.3,335.4"/>
<polygon points="595.0,325.0 650.1,325.0 650.1,393.6 595.0,393.6"/>
<polygon class="c" points="595.0,325.0 596.6,325.0 596.2,331.2 595.0,334.9"/>
<polygon class="c" points="600.2,325.0 607.5,325.0 607.0,335.4 605.4,342.7 603.8,342.2 601.2,336.4"/>
<polygon class="c" points="612.2,325.0 621.0,325.0 621.0,366.6 619.9,377.0 618.9,381.1 616.8,381.1 613.7,374.9 614.2,361.4 615.8,351.0 616.8,335.4 614.8,330.2 612.2,328.1"/>
<polygon class="c" points="604.4,370.7 606.4,361.4 608.5,360.9 612.2,364.5 613.2,368.7 612.7,377.0 610.6,381.1 606.4,381.1 604.9,377.0"/>
<polygon class="c" points="626.2,325.0 630.9,325.0 631.4,335.4 631.4,356.2 630.9,368.7 630.3,379.1 628.3,373.9 626.2,364.5 625.7,340.6"/>
<polygon class="c" points="636.6,325.0 642.3,325.0 642.3,356.2 643.9,372.8 643.9,389.4 640.7,393.6 636.6,393.6 636.1,366.6"/>
<polygon class="c" points="608.5,393.6 610.6,383.2 612.7,387.4 615.8,386.3 616.8,393.6"/>
</g>
<g fill="#000" shape-rendering="crispEdges">
<rect x="255" y="130" width="394" height="2"/>
<rect x="255" y="391" width="394" height="2"/>
<rect x="255" y="130" width="2" height="263"/>
<rect x="647" y="130" width="2" height="263"/>
<rect x="331" y="132" width="2" height="9"/><rect x="331" y="382" width="2" height="9"/>
<rect x="408" y="132" width="2" height="9"/><rect x="408" y="382" width="2" height="9"/>
<rect x="485" y="132" width="2" height="9"/><rect x="485" y="382" width="2" height="9"/>
<rect x="561" y="132" width="2" height="9"/><rect x="561" y="382" width="2" height="9"/>
<rect x="638" y="132" width="2" height="9"/><rect x="638" y="382" width="2" height="9"/>
<rect x="271" y="132" width="1" height="4"/><rect x="271" y="387" width="1" height="4"/>
<rect x="286" y="132" width="1" height="4"/><rect x="286" y="387" width="1" height="4"/>
<rect x="302" y="132" width="1" height="4"/><rect x="302" y="387" width="1" height="4"/>
<rect x="317" y="132" width="1" height="4"/><rect x="317" y="387" width="1" height="4"/>
<rect x="348" y="132" width="1" height="4"/><rect x="348" y="387" width="1" height="4"/>
<rect x="363" y="132" width="1" height="4"/><rect x="363" y="387" width="1" height="4"/>
<rect x="378" y="132" width="1" height="4"/><rect x="378" y="387" width="1" height="4"/>
<rect x="394" y="132" width="1" height="4"/><rect x="394" y="387" width="1" height="4"/>
<rect x="424" y="132" width="1" height="4"/><rect x="424" y="387" width="1" height="4"/>
<rect x="440" y="132" width="1" height="4"/><rect x="440" y="387" width="1" height="4"/>
<rect x="455" y="132" width="1" height="4"/><rect x="455" y="387" width="1" height="4"/>
<rect x="470" y="132" width="1" height="4"/><rect x="470" y="387" width="1" height="4"/>
<rect x="501" y="132" width="1" height="4"/><rect x="501" y="387" width="1" height="4"/>
<rect x="516" y="132" width="1" height="4"/><rect x="516" y="387" width="1" height="4"/>
<rect x="532" y="132" width="1" height="4"/><rect x="532" y="387" width="1" height="4"/>
<rect x="547" y="132" width="1" height="4"/><rect x="547" y="387" width="1" height="4"/>
<rect x="578" y="132" width="1" height="4"/><rect x="578" y="387" width="1" height="4"/>
<rect x="593" y="132" width="1" height="4"/><rect x="593" y="387" width="1" height="4"/>
<rect x="608" y="132" width="1" height="4"/><rect x="608" y="387" width="1" height="4"/>
<rect x="624" y="132" width="1" height="4"/><rect x="624" y="387" width="1" height="4"/>
<rect x="257" y="217" width="9" height="2"/><rect x="638" y="217" width="9" height="2"/>
<rect x="257" y="305" width="9" height="2"/><rect x="638" y="305" width="9" height="2"/>
<rect x="257" y="147" width="4" height="1"/><rect x="643" y="147" width="4" height="1"/>
<rect x="257" y="165" width="4" height="1"/><rect x="643" y="165" width="4" height="1"/>
<rect x="257" y="182" width="4" height="1"/><rect x="643" y="182" width="4" height="1"/>
<rect x="257" y="200" width="4" height="1"/><rect x="643" y="200" width="4" height="1"/>
<rect x="257" y="235" width="4" height="1"/><rect x="643" y="235" width="4" height="1"/>
<rect x="257" y="253" width="4" height="1"/><rect x="643" y="253" width="4" height="1"/>
<rect x="257" y="270" width="4" height="1"/><rect x="643" y="270" width="4" height="1"/>
<rect x="257" y="288" width="4" height="1"/><rect x="643" y="288" width="4" height="1"/>
<rect x="257" y="323" width="4" height="1"/><rect x="643" y="323" width="4" height="1"/>
<rect x="257" y="341" width="4" height="1"/><rect x="643" y="341" width="4" height="1"/>
<rect x="257" y="358" width="4" height="1"/><rect x="643" y="358" width="4" height="1"/>
<rect x="257" y="376" width="4" height="1"/><rect x="643" y="376" width="4" height="1"/>
</g>
<g shape-rendering="crispEdges">
<rect x="663" y="195" width="15" height="198" fill="#000"/>
<rect x="665" y="197" width="11" height="40" fill="#FFDCDC"/>
<rect x="665" y="239" width="11" height="15" fill="#FFB4B4"/>
<rect x="665" y="256" width="11" height="15" fill="#FF7070"/>
<rect x="665" y="273" width="11" height="15" fill="#FF1010"/>
<rect x="665" y="290" width="11" height="15" fill="#FF6400"/>
<rect x="665" y="307" width="11" height="3" fill="#FFA000"/>
<rect x="665" y="312" width="11" height="4" fill="#FFC800"/>
<rect x="665" y="318" width="11" height="4" fill="#FFFF00"/>
<rect x="665" y="324" width="11" height="3" fill="#00F0FF"/>
<rect x="665" y="329" width="11" height="4" fill="#0040FF"/>
<rect x="665" y="335" width="11" height="4" fill="#0000B0"/>
<rect x="665" y="341" width="11" height="14" fill="#7000B0"/>
<rect x="665" y="357" width="11" height="15" fill="#B000B0"/>
<rect x="665" y="374" width="11" height="17" fill="#E800B0"/>
</g>
<g style="will-change:transform">
<text x="337" y="85" font-size="28" textLength="107" lengthAdjust="spacing">vertical</text>
<text x="459" y="85" font-size="28" textLength="109" lengthAdjust="spacing">velocity</text>
<text x="164" y="109" font-size="19" stroke="#000" stroke-width="0.3" textLength="88" lengthAdjust="spacingAndGlyphs">(x1E4 m)</text>
<text x="656" y="143" font-size="16" textLength="91" lengthAdjust="spacingAndGlyphs">t=97200 s</text>
<text x="567" y="438" font-size="19" stroke="#000" stroke-width="0.3" textLength="90" lengthAdjust="spacingAndGlyphs">(x1E5 m)</text>
<text x="372" y="469" font-size="23" stroke="#000" stroke-width="0.2" textLength="160" lengthAdjust="spacing">X−coordinate</text>
<text transform="translate(217,336) rotate(-90)" font-size="23" stroke="#000" stroke-width="0.2" textLength="154" lengthAdjust="spacing">Z−coordinate</text>
<text transform="translate(332.3,415) scale(1.2,1)" font-size="20" text-anchor="middle" stroke="#000" stroke-width="0.35">1</text>
<text transform="translate(409,415) scale(1.2,1)" font-size="20" text-anchor="middle" stroke="#000" stroke-width="0.35">2</text>
<text transform="translate(486.2,415) scale(1.2,1)" font-size="20" text-anchor="middle" stroke="#000" stroke-width="0.35">3</text>
<text transform="translate(562.5,415) scale(1.2,1)" font-size="20" text-anchor="middle" stroke="#000" stroke-width="0.35">4</text>
<text transform="translate(639.2,415) scale(1.2,1)" font-size="20" text-anchor="middle" stroke="#000" stroke-width="0.35">5</text>
<text transform="translate(240,224) scale(1.2,1)" font-size="20" text-anchor="middle" stroke="#000" stroke-width="0.35">2</text>
<text transform="translate(239.5,312) scale(1.2,1)" font-size="20" text-anchor="middle" stroke="#000" stroke-width="0.35">1</text>
<text x="687" y="244" font-size="17.5" stroke="#000" stroke-width="0.4" textLength="19" lengthAdjust="spacingAndGlyphs">15</text>
<text transform="translate(687,295) scale(1.2,1)" font-size="17.5" stroke="#000" stroke-width="0.4">6</text>
<text x="687" y="323" font-size="17.5" stroke="#000" stroke-width="0.4">1</text>
<text x="687" y="340" font-size="17.5" stroke="#000" stroke-width="0.4" textLength="23" lengthAdjust="spacingAndGlyphs">−2</text>
<text x="687" y="379" font-size="17.5" stroke="#000" stroke-width="0.4" textLength="23" lengthAdjust="spacingAndGlyphs">−9</text>

</g>
</svg>
</body></html>
